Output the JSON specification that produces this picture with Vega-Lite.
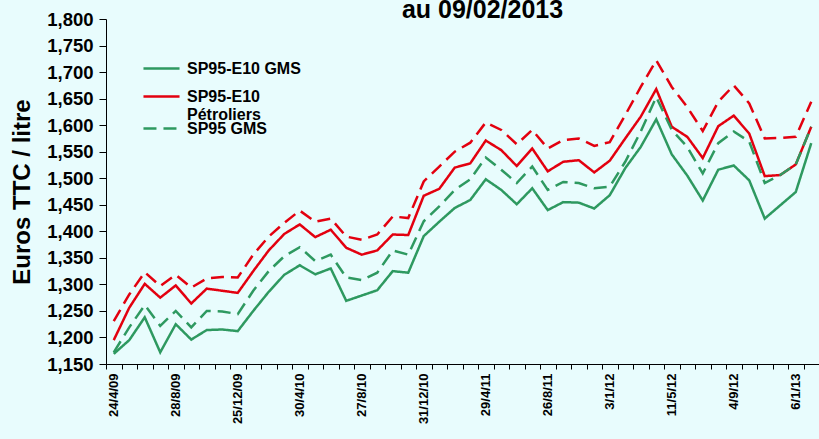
{
  "$schema": "https://vega.github.io/schema/vega-lite/v6.json",
  "width": 713,
  "height": 345,
  "autosize": {"type": "none"},
  "padding": {"left": 106, "top": 19, "right": 0, "bottom": 75},
  "background": "#e8fcfd",
  "title": {"text": "au 09/02/2013", "fontSize": 25, "font": "Liberation Sans", "fontWeight": "bold", "color": "#000000", "anchor": "middle", "offset": -13, "dx": 20},
  "data": {"values": [
    {"d": "24/4/09", "SP95-E10 GMS": 1.169, "SP95-E10 Pétroliers": 1.195, "SP95 GMS": 1.172, "SP95 Pétroliers": 1.231},
    {"d": "29/5/09", "SP95-E10 GMS": 1.195, "SP95-E10 Pétroliers": 1.256, "SP95 GMS": 1.219, "SP95 Pétroliers": 1.281},
    {"d": "26/6/09", "SP95-E10 GMS": 1.238, "SP95-E10 Pétroliers": 1.301, "SP95 GMS": 1.261, "SP95 Pétroliers": 1.323},
    {"d": "31/7/09", "SP95-E10 GMS": 1.172, "SP95-E10 Pétroliers": 1.275, "SP95 GMS": 1.222, "SP95 Pétroliers": 1.297},
    {"d": "28/8/09", "SP95-E10 GMS": 1.225, "SP95-E10 Pétroliers": 1.298, "SP95 GMS": 1.250, "SP95 Pétroliers": 1.318},
    {"d": "25/9/09", "SP95-E10 GMS": 1.196, "SP95-E10 Pétroliers": 1.264, "SP95 GMS": 1.219, "SP95 Pétroliers": 1.294},
    {"d": "30/10/09", "SP95-E10 GMS": 1.214, "SP95-E10 Pétroliers": 1.292, "SP95 GMS": 1.250, "SP95 Pétroliers": 1.311},
    {"d": "27/11/09", "SP95-E10 GMS": 1.215, "SP95-E10 Pétroliers": 1.288, "SP95 GMS": 1.249, "SP95 Pétroliers": 1.314},
    {"d": "25/12/09", "SP95-E10 GMS": 1.212, "SP95-E10 Pétroliers": 1.284, "SP95 GMS": 1.244, "SP95 Pétroliers": 1.313},
    {"d": "29/1/10", "SP95-E10 GMS": 1.250, "SP95-E10 Pétroliers": 1.325, "SP95 GMS": 1.288, "SP95 Pétroliers": 1.356},
    {"d": "26/2/10", "SP95-E10 GMS": 1.286, "SP95-E10 Pétroliers": 1.364, "SP95 GMS": 1.325, "SP95 Pétroliers": 1.390},
    {"d": "26/3/10", "SP95-E10 GMS": 1.318, "SP95-E10 Pétroliers": 1.395, "SP95 GMS": 1.353, "SP95 Pétroliers": 1.416},
    {"d": "30/4/10", "SP95-E10 GMS": 1.336, "SP95-E10 Pétroliers": 1.413, "SP95 GMS": 1.370, "SP95 Pétroliers": 1.439},
    {"d": "28/5/10", "SP95-E10 GMS": 1.319, "SP95-E10 Pétroliers": 1.389, "SP95 GMS": 1.344, "SP95 Pétroliers": 1.418},
    {"d": "25/6/10", "SP95-E10 GMS": 1.330, "SP95-E10 Pétroliers": 1.403, "SP95 GMS": 1.356, "SP95 Pétroliers": 1.424},
    {"d": "30/7/10", "SP95-E10 GMS": 1.269, "SP95-E10 Pétroliers": 1.369, "SP95 GMS": 1.313, "SP95 Pétroliers": 1.390},
    {"d": "27/8/10", "SP95-E10 GMS": 1.279, "SP95-E10 Pétroliers": 1.356, "SP95 GMS": 1.308, "SP95 Pétroliers": 1.384},
    {"d": "24/9/10", "SP95-E10 GMS": 1.289, "SP95-E10 Pétroliers": 1.364, "SP95 GMS": 1.322, "SP95 Pétroliers": 1.394},
    {"d": "29/10/10", "SP95-E10 GMS": 1.325, "SP95-E10 Pétroliers": 1.394, "SP95 GMS": 1.364, "SP95 Pétroliers": 1.428},
    {"d": "26/11/10", "SP95-E10 GMS": 1.322, "SP95-E10 Pétroliers": 1.393, "SP95 GMS": 1.356, "SP95 Pétroliers": 1.425},
    {"d": "31/12/10", "SP95-E10 GMS": 1.391, "SP95-E10 Pétroliers": 1.467, "SP95 GMS": 1.419, "SP95 Pétroliers": 1.494},
    {"d": "28/1/11", "SP95-E10 GMS": 1.418, "SP95-E10 Pétroliers": 1.480, "SP95 GMS": 1.447, "SP95 Pétroliers": 1.522},
    {"d": "25/2/11", "SP95-E10 GMS": 1.444, "SP95-E10 Pétroliers": 1.520, "SP95 GMS": 1.478, "SP95 Pétroliers": 1.550},
    {"d": "25/3/11", "SP95-E10 GMS": 1.459, "SP95-E10 Pétroliers": 1.528, "SP95 GMS": 1.498, "SP95 Pétroliers": 1.567},
    {"d": "29/4/11", "SP95-E10 GMS": 1.498, "SP95-E10 Pétroliers": 1.571, "SP95 GMS": 1.539, "SP95 Pétroliers": 1.605},
    {"d": "27/5/11", "SP95-E10 GMS": 1.478, "SP95-E10 Pétroliers": 1.553, "SP95 GMS": 1.516, "SP95 Pétroliers": 1.591},
    {"d": "24/6/11", "SP95-E10 GMS": 1.451, "SP95-E10 Pétroliers": 1.523, "SP95 GMS": 1.491, "SP95 Pétroliers": 1.564},
    {"d": "29/7/11", "SP95-E10 GMS": 1.481, "SP95-E10 Pétroliers": 1.556, "SP95 GMS": 1.522, "SP95 Pétroliers": 1.591},
    {"d": "26/8/11", "SP95-E10 GMS": 1.440, "SP95-E10 Pétroliers": 1.513, "SP95 GMS": 1.478, "SP95 Pétroliers": 1.556},
    {"d": "30/9/11", "SP95-E10 GMS": 1.455, "SP95-E10 Pétroliers": 1.531, "SP95 GMS": 1.493, "SP95 Pétroliers": 1.572},
    {"d": "28/10/11", "SP95-E10 GMS": 1.454, "SP95-E10 Pétroliers": 1.534, "SP95 GMS": 1.491, "SP95 Pétroliers": 1.575},
    {"d": "25/11/11", "SP95-E10 GMS": 1.443, "SP95-E10 Pétroliers": 1.511, "SP95 GMS": 1.481, "SP95 Pétroliers": 1.561},
    {"d": "3/1/12", "SP95-E10 GMS": 1.468, "SP95-E10 Pétroliers": 1.533, "SP95 GMS": 1.484, "SP95 Pétroliers": 1.568},
    {"d": "3/2/12", "SP95-E10 GMS": 1.519, "SP95-E10 Pétroliers": 1.575, "SP95 GMS": 1.531, "SP95 Pétroliers": 1.619},
    {"d": "2/3/12", "SP95-E10 GMS": 1.559, "SP95-E10 Pétroliers": 1.616, "SP95 GMS": 1.588, "SP95 Pétroliers": 1.672},
    {"d": "6/4/12", "SP95-E10 GMS": 1.611, "SP95-E10 Pétroliers": 1.668, "SP95 GMS": 1.653, "SP95 Pétroliers": 1.722},
    {"d": "11/5/12", "SP95-E10 GMS": 1.545, "SP95-E10 Pétroliers": 1.597, "SP95 GMS": 1.591, "SP95 Pétroliers": 1.672},
    {"d": "8/6/12", "SP95-E10 GMS": 1.505, "SP95-E10 Pétroliers": 1.578, "SP95 GMS": 1.559, "SP95 Pétroliers": 1.634},
    {"d": "6/7/12", "SP95-E10 GMS": 1.458, "SP95-E10 Pétroliers": 1.538, "SP95 GMS": 1.509, "SP95 Pétroliers": 1.589},
    {"d": "3/8/12", "SP95-E10 GMS": 1.516, "SP95-E10 Pétroliers": 1.598, "SP95 GMS": 1.566, "SP95 Pétroliers": 1.644},
    {"d": "4/9/12", "SP95-E10 GMS": 1.524, "SP95-E10 Pétroliers": 1.618, "SP95 GMS": 1.588, "SP95 Pétroliers": 1.675},
    {"d": "5/10/12", "SP95-E10 GMS": 1.496, "SP95-E10 Pétroliers": 1.584, "SP95 GMS": 1.569, "SP95 Pétroliers": 1.641},
    {"d": "2/11/12", "SP95-E10 GMS": 1.424, "SP95-E10 Pétroliers": 1.504, "SP95 GMS": 1.491, "SP95 Pétroliers": 1.575},
    {"d": "7/12/12", "SP95-E10 GMS": 1.449, "SP95-E10 Pétroliers": 1.506, "SP95 GMS": 1.506, "SP95 Pétroliers": 1.576},
    {"d": "6/1/13", "SP95-E10 GMS": 1.474, "SP95-E10 Pétroliers": 1.526, "SP95 GMS": 1.526, "SP95 Pétroliers": 1.578},
    {"d": "9/2/13", "SP95-E10 GMS": 1.566, "SP95-E10 Pétroliers": 1.597, "SP95 GMS": 1.597, "SP95 Pétroliers": 1.644}
  ]},
  "transform": [{"fold": ["SP95-E10 GMS", "SP95-E10 Pétroliers", "SP95 GMS", "SP95 Pétroliers"], "as": ["s", "v"]}],
  "mark": {"type": "line", "strokeWidth": 2.5},
  "encoding": {
    "x": {
      "field": "d", "type": "ordinal", "sort": null,
      "scale": {"type": "band", "paddingInner": 0, "paddingOuter": 0},
      "bandPosition": 0.5,
      "axis": {
        "title": null, "labelAngle": 270, "labelFontSize": 13, "labelFont": "Liberation Sans", "labelFontWeight": "bold", "labelColor": "#000000",
        "tickBand": "extent", "tickSize": 5, "tickColor": "#000000", "domainColor": "#000000", "labelPadding": 4, "labelOverlap": false,
        "labelExpr": "indexof(['24/4/09','28/8/09','25/12/09','30/4/10','27/8/10','31/12/10','29/4/11','26/8/11','3/1/12','11/5/12','4/9/12','6/1/13'], datum.value) >= 0 ? datum.value : ''"
      }
    },
    "y": {
      "field": "v", "type": "quantitative",
      "scale": {"domain": [1.15, 1.8], "nice": false, "zero": false},
      "axis": {
        "title": "Euros TTC / litre", "titleFontSize": 24, "titleFont": "Liberation Sans", "titleFontWeight": "bold", "titleColor": "#000000", "titlePadding": 12,
        "values": [1.15, 1.2, 1.25, 1.3, 1.35, 1.4, 1.45, 1.5, 1.55, 1.6, 1.65, 1.7, 1.75, 1.8],
        "labelExpr": "replace(format(datum.value, '.3f'), '.', ',')",
        "labelFontSize": 18.5, "labelFont": "Liberation Sans", "labelFontWeight": "bold", "labelColor": "#000000",
        "tickSize": 7, "tickColor": "#000000", "domainColor": "#000000", "grid": false, "labelPadding": 6
      }
    },
    "color": {
      "field": "s", "type": "nominal",
      "scale": {"domain": ["SP95-E10 GMS", "SP95-E10 Pétroliers", "SP95 GMS", "SP95 Pétroliers"], "range": ["#2e9960", "#e3000f", "#2e9960", "#e3000f"]},
      "legend": {"values": ["SP95-E10 GMS", "SP95-E10 Pétroliers"], "legendX": 36, "legendY": 30, "labelExpr": "datum.label == 'SP95-E10 Pétroliers' ? ['SP95-E10', 'Pétroliers'] : datum.label"}
    },
    "strokeDash": {
      "field": "s", "type": "nominal",
      "scale": {"domain": ["SP95 GMS", "SP95 Pétroliers", "SP95-E10 GMS", "SP95-E10 Pétroliers"], "range": [[13, 7], [13, 7], [1, 0], [1, 0]]},
      "legend": {"values": ["SP95 GMS"], "legendX": 36, "legendY": 90, "symbolStrokeColor": "#2e9960"}
    }
  },
  "config": {
    "view": {"stroke": null},
    "legend": {
      "title": null, "orient": "none",
      "labelFont": "Liberation Sans", "labelFontWeight": "bold", "labelFontSize": 16, "labelColor": "#000000",
      "symbolType": "stroke", "symbolSize": 1300, "symbolStrokeWidth": 2.5, "labelOffset": 6, "rowPadding": -7,
      "labelLimit": 300
    }
  }
}
